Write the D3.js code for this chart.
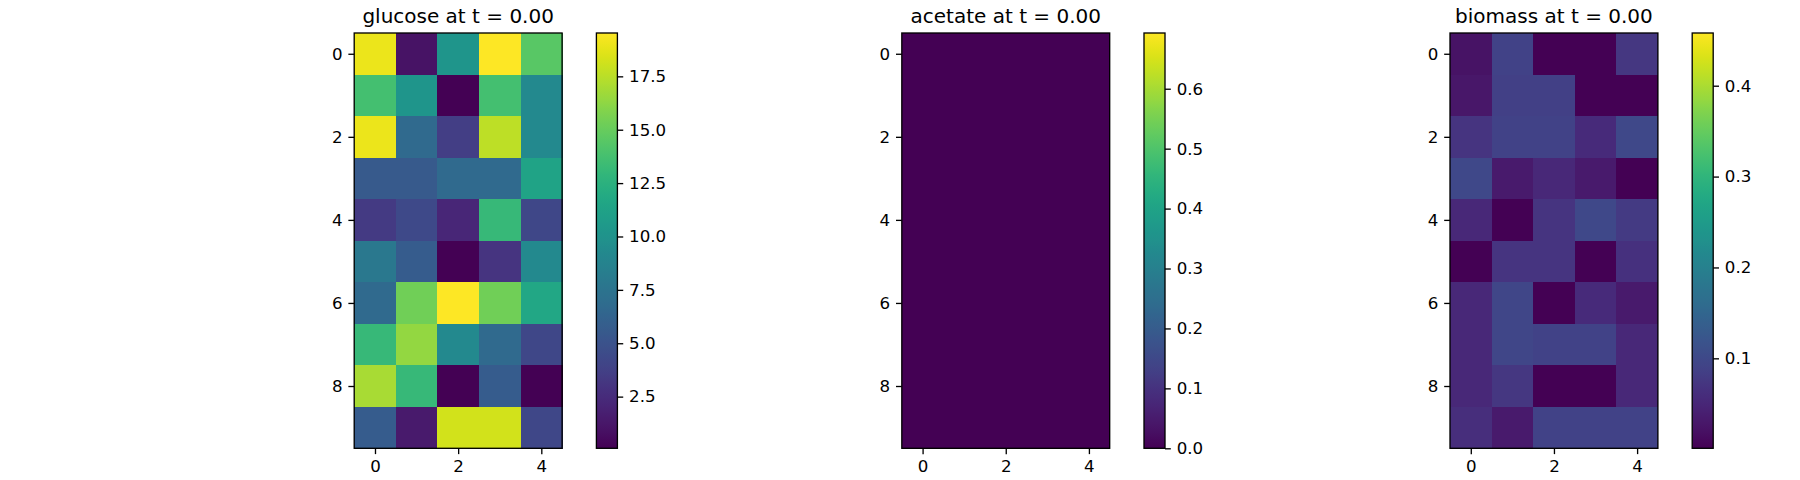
<!DOCTYPE html>
<html>
<head>
<meta charset="utf-8">
<script src="https://cdn.jsdelivr.net/npm/d3@7"></script>
<style>
  html, body { margin: 0; padding: 0; background: #fff; }
  svg { display: block; }
  text { font-family: "DejaVu Sans", sans-serif; fill: #000; }
</style>
</head>
<body>
<svg id="chart" width="1800" height="480"></svg>
<script>
// ---- data ----
const rowLabels = [0, 1, 2, 3, 4, 5, 6, 7, 8, 9];
const colLabels = [0, 1, 2, 3, 4];
const titles = ["glucose at t = 0.00", "acetate at t = 0.00", "biomass at t = 0.00"];

const glucose = [
  [18.95, 1.05, 10.2, 19.53, 14.5],
  [13.7, 10.2, 0.08, 13.7, 9.2],
  [18.95, 6.7, 3.6, 17.6, 9.2],
  [5.5, 5.5, 6.7, 6.7, 11.4],
  [3.4, 4.4, 2.2, 13.1, 4.2],
  [7.9, 5.7, 0.08, 3.0, 9.2],
  [6.7, 15.3, 19.53, 15.3, 11.7],
  [13.1, 16.4, 9.2, 6.7, 4.2],
  [17.0, 13.1, 0.1, 5.7, 0.1],
  [5.7, 1.4, 18.2, 18.2, 4.2]
];
const acetate = [
  [0, 0, 0, 0, 0],
  [0, 0, 0, 0, 0],
  [0, 0, 0, 0, 0],
  [0, 0, 0, 0, 0],
  [0, 0, 0, 0, 0],
  [0, 0, 0, 0, 0],
  [0, 0, 0, 0, 0],
  [0, 0, 0, 0, 0],
  [0, 0, 0, 0, 0],
  [0, 0, 0, 0, 0]
];
const biomass = [
  [0.024, 0.092, 0.001, 0.001, 0.074],
  [0.028, 0.088, 0.088, 0.001, 0.001],
  [0.070, 0.092, 0.092, 0.056, 0.100],
  [0.100, 0.033, 0.051, 0.033, 0.001],
  [0.051, 0.001, 0.070, 0.100, 0.078],
  [0.001, 0.070, 0.070, 0.001, 0.065],
  [0.051, 0.097, 0.001, 0.056, 0.033],
  [0.051, 0.097, 0.092, 0.092, 0.051],
  [0.051, 0.074, 0.001, 0.001, 0.051],
  [0.060, 0.033, 0.092, 0.092, 0.092]
];

const glucoseRange = [0.08, 19.53];
const acetateRange = [0.0, 0.693];
const biomassRange = [0.001, 0.458];

const glucoseTicks = [2.5, 5.0, 7.5, 10.0, 12.5, 15.0, 17.5];
const acetateTicks = [0.0, 0.1, 0.2, 0.3, 0.4, 0.5, 0.6];
const biomassTicks = [0.1, 0.2, 0.3, 0.4];
const rowTicks = [0, 2, 4, 6, 8];
const colTicks = [0, 2, 4];

// ---- layout ----
const panels = [
  { title: titles[0], data: glucose, range: glucoseRange, ticks: glucoseTicks, fmt: d3.format(".1f"), x0: 354.2, cx: 596.4 },
  { title: titles[1], data: acetate, range: acetateRange, ticks: acetateTicks, fmt: d3.format(".1f"), x0: 901.8, cx: 1144.0 },
  { title: titles[2], data: biomass, range: biomassRange, ticks: biomassTicks, fmt: d3.format(".1f"), x0: 1450.0, cx: 1692.2 }
];
const topY = 33.0, imgH = 415.3, imgW = 207.9, cbW = 21.0;
const tickLen = 5.83, tickPad = 5.83, lw = 1.33;
const tickFont = "16.67px", titleFont = "20px";
const svg = d3.select("#chart");
const defs = svg.append("defs");

function styleAxis(sel) {
  sel.select(".domain").remove();
  sel.selectAll("line").attr("stroke", "#000").attr("stroke-width", lw);
  sel.selectAll("text").attr("font-family", "DejaVu Sans, sans-serif").style("font-size", tickFont).style("font-family", "DejaVu Sans, sans-serif");
}

panels.forEach((p, i) => {
  const g = svg.append("g");
  const x = d3.scaleBand().domain(colLabels).range([p.x0, p.x0 + imgW]);
  const y = d3.scaleBand().domain(rowLabels).range([topY, topY + imgH]);
  const color = d3.scaleSequential(d3.interpolateViridis).domain(p.range).clamp(true);

  const cells = [];
  p.data.forEach((row, r) => row.forEach((v, c) => cells.push({ r, c, v })));
  g.selectAll("rect.cell").data(cells).join("rect")
    .attr("class", "cell")
    .attr("x", d => x(d.c))
    .attr("y", d => y(d.r))
    .attr("width", x.bandwidth() + 0.5)
    .attr("height", y.bandwidth() + 0.5)
    .attr("fill", d => color(d.v))
    .attr("shape-rendering", "crispEdges");

  // frame
  g.append("rect")
    .attr("x", p.x0).attr("y", topY).attr("width", imgW).attr("height", imgH)
    .attr("fill", "none").attr("stroke", "#000").attr("stroke-width", lw);

  // y axis
  const yTickScale = d3.scaleLinear().domain([-0.5, 9.5]).range([topY, topY + imgH]);
  const yAxis = d3.axisLeft(yTickScale).tickValues(rowTicks).tickSize(tickLen).tickPadding(tickPad).tickFormat(d3.format("d"));
  styleAxis(g.append("g").attr("transform", `translate(${p.x0},0)`).call(yAxis));

  // x axis
  const xTickScale = d3.scaleLinear().domain([-0.5, 4.5]).range([p.x0, p.x0 + imgW]);
  const xAxis = d3.axisBottom(xTickScale).tickValues(colTicks).tickSize(tickLen).tickPadding(tickPad).tickFormat(d3.format("d"));
  styleAxis(g.append("g").attr("transform", `translate(0,${topY + imgH})`).call(xAxis));

  // title
  g.append("text")
    .attr("x", p.x0 + imgW / 2).attr("y", 23)
    .attr("text-anchor", "middle")
    .style("font-size", titleFont)
    .text(p.title);

  // colorbar
  const gradId = "grad" + i;
  const grad = defs.append("linearGradient").attr("id", gradId)
    .attr("x1", 0).attr("y1", 1).attr("x2", 0).attr("y2", 0);
  d3.range(0, 1.0001, 0.02).forEach(t => {
    grad.append("stop").attr("offset", t).attr("stop-color", d3.interpolateViridis(t));
  });
  g.append("rect")
    .attr("x", p.cx).attr("y", topY).attr("width", cbW).attr("height", imgH)
    .attr("fill", `url(#${gradId})`)
    .attr("stroke", "#000").attr("stroke-width", lw);

  const cScale = d3.scaleLinear().domain(p.range).range([topY + imgH, topY]);
  const cAxis = d3.axisRight(cScale).tickValues(p.ticks).tickSize(tickLen).tickPadding(tickPad).tickFormat(p.fmt);
  styleAxis(g.append("g").attr("transform", `translate(${p.cx + cbW},0)`).call(cAxis));
});
</script>
</body>
</html>
